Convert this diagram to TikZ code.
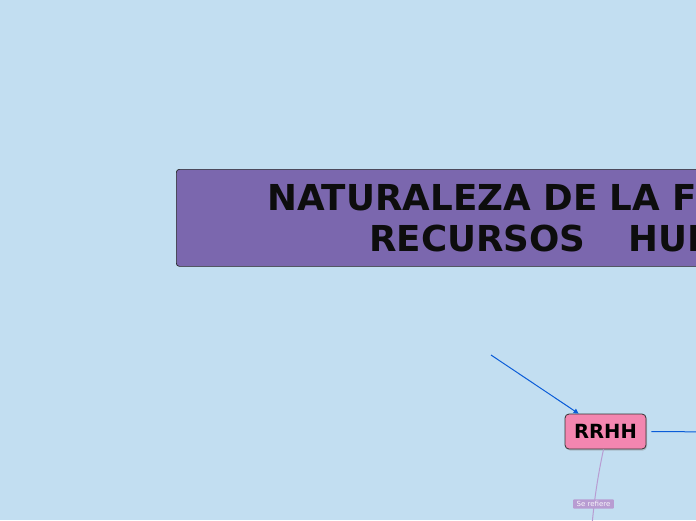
\documentclass[tikz,border=0pt]{standalone}
\usepackage{fontspec}
\setmainfont{DejaVu Sans}
\usetikzlibrary{arrows.meta,shadows}
\definecolor{bgblue}{HTML}{C2DEF1}
\definecolor{titlepurple}{HTML}{7B67AE}
\definecolor{rrhhpink}{HTML}{F386B0}
\definecolor{linkblue}{HTML}{0A5CD8}
\definecolor{refpurple}{HTML}{B89CD2}
\tikzset{
    titlebox/.style={draw=black!85, fill=titlepurple, rounded corners=3pt, line width=0.7pt, inner sep=0pt},
    titletext/.style={font=\fontsize{35.7}{42}\selectfont\bfseries, text=black!95, inner sep=0pt},
    topicbox/.style={draw=black!80, fill=rrhhpink, rounded corners=4pt, line width=0.8pt,
        minimum width=81pt, minimum height=35pt, inner sep=0pt,
        font=\fontsize{19.5}{22}\selectfont\bfseries,
        drop shadow={shadow xshift=1pt, shadow yshift=-1.5pt, opacity=0.35}},
    reflabel/.style={fill=refpurple, rounded corners=1pt, inner xsep=3.5pt, inner ysep=2pt,
        text=white!92!refpurple, font=\fontsize{7}{8}\selectfont},
    linkline/.style={draw=linkblue, line width=1pt},
    refline/.style={draw=refpurple, line width=1pt}
}
\begin{document}
\begin{tikzpicture}[x=1pt,y=-1pt]
\fill[bgblue] (0,0) rectangle (696,520);
\clip (0,0) rectangle (696,520);
% title
\node[titlebox, anchor=north west, minimum width=600pt, minimum height=97pt] (title) at (176,169) {};
\node[titletext, anchor=base west] (titleA) at (267,210) {NATURALEZA DE LA FUNCIÓN};
\node[titletext, anchor=base west] (titleB) at (369,251) {RECURSOS\hspace{0.85em} HUMANOS};
% main topic
\node[topicbox] (rrhh) at (605.5,431.5) {RRHH};
\coordinate (from) at (491,355);
\coordinate (right) at (720,432);
\coordinate (down) at (591,540);
\draw[linkline, -{Triangle[length=5pt,width=5pt]}] (from) -- ([xshift=14pt]rrhh.north west);
\draw[linkline] ([xshift=5pt]rrhh.east) -- (right);
\draw[refline] ([xshift=-2pt]rrhh.south) .. controls (598,475) and (593,505) .. (down);
\node[reflabel] (refiere) at (593.5,504) {Se refiere};
\end{tikzpicture}
\end{document}
